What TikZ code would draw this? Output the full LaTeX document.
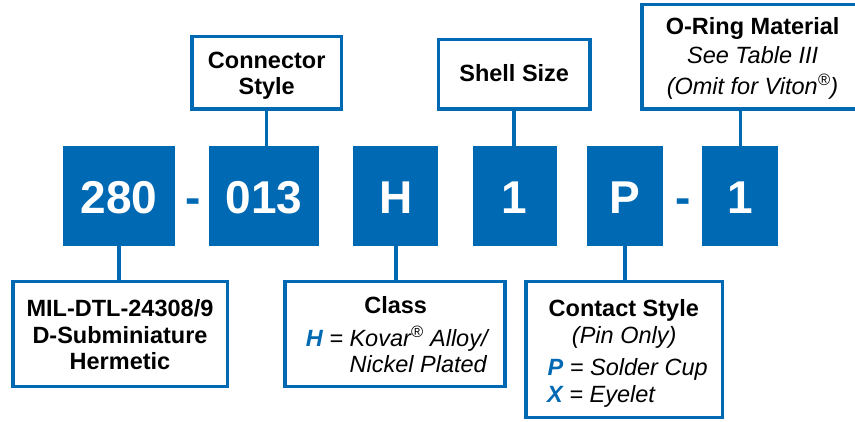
\documentclass[tikz,border=0pt]{standalone}
\usepackage{fontspec}
\setmainfont{Liberation Sans}
\definecolor{pnblue}{RGB}{0,105,180}
\newcommand\hlt[1]{\textcolor{pnblue}{\bfseries\itshape #1}}
\tikzset{
  codebox/.style={fill=pnblue, draw=none, inner sep=0pt, text=white,
    font=\fontsize{46}{46}\selectfont\bfseries, text height=36pt, text depth=0pt,
    minimum height=100pt},
  dashsym/.style={anchor=base, inner sep=0pt, text=pnblue,
    font=\fontsize{46}{46}\selectfont\bfseries},
  labelbox/.style={draw=pnblue, line width=3.5pt, fill=white, inner sep=0pt},
  link/.style={draw=pnblue, line width=3.5pt},
  ttl/.style={anchor=base, inner sep=0pt, font=\fontsize{23.5}{27}\selectfont\bfseries},
  desc/.style={anchor=base, inner sep=0pt, font=\fontsize{23.5}{27}\selectfont\itshape},
  descw/.style={anchor=base west, inner sep=0pt, font=\fontsize{23.5}{27}\selectfont\itshape},
}
\begin{document}
\begin{tikzpicture}[x=1pt, y=-1pt]
\useasboundingbox (0,0) rectangle (855,422);
\clip (0,0) rectangle (855,422);

% code boxes
\node[codebox, minimum width=112pt]   (b1) at (119,196)   {280};
\node[codebox, minimum width=109.7pt] (b2) at (264.2,196) {013};
\node[codebox, minimum width=85pt]    (b3) at (395.8,196) {H};
\node[codebox, minimum width=84pt]    (b4) at (514.7,196) {1};
\node[codebox, minimum width=75.4pt]  (b5) at (625,196)   {P};
\node[codebox, minimum width=76pt]    (b6) at (740.3,196) {1};
\node[dashsym] (d1) at (193.5,214) {-};
\node[dashsym] (d2) at (683.5,214) {-};

% label boxes
\node[labelbox, minimum width=149.5pt, minimum height=72.5pt] (cs)  at (266.5,73)    {};
\node[labelbox, minimum width=151.5pt, minimum height=69.8pt] (ss)  at (514.2,74.3)  {};
\node[labelbox, minimum width=228.3pt, minimum height=104.5pt] (om) at (755.9,57)    {};
\node[labelbox, minimum width=214.8pt, minimum height=104.8pt] (mil) at (120.15,334.15) {};
\node[labelbox, minimum width=219.9pt, minimum height=104.5pt] (cls) at (395,334)    {};
\node[labelbox, minimum width=196.2pt, minimum height=135.5pt] (ct)  at (624.15,349.5) {};

% connectors
\draw[link] (cs.south) -- (cs.south |- b2.north);
\draw[link] (ss.south) -- (ss.south |- b4.north);
\draw[link] (b6.north) -- (b6.north |- om.south);
\draw[link] (b1.south) -- (b1.south |- mil.north);
\draw[link] (b3.south) -- (b3.south |- cls.north);
\draw[link] (b5.south) -- (b5.south |- ct.north);

% texts
\node[ttl] (cs1) at (266.7,68.3) {Connector};
\node[ttl] (cs2) at (266.7,95)   {Style};
\node[ttl] (ss1) at (514.2,81.7) {Shell Size};
\node[ttl]  (om1) at (752.7,35) {O-Ring Material};
\node[desc] (om2) at (752.7,64) {See Table III};
\node[desc] (om3) at (752.5,95) {(Omit for Viton\textsuperscript{®})};
\node[ttl] (mil1) at (120,316.7) {MIL-DTL-24308/9};
\node[ttl] (mil2) at (120,343.3) {D-Subminiature};
\node[ttl] (mil3) at (120,370)   {Hermetic};
\node[ttl]  (cls1) at (395.7,314)   {Class};
\node[desc] (cls2) at (396.7,346.7) {\hlt{H} = Kovar\textsuperscript{®} Alloy/};
\node[descw] (cls3) at (349.5,372.5) {Nickel Plated};
\node[ttl]  (ct1) at (623.8,316.7) {Contact Style};
\node[desc] (ct2) at (624.2,343.3) {(Pin Only)};
\node[descw] (ct3) at (547.5,376)   {\hlt{P} = Solder Cup};
\node[descw] (ct4) at (547,402.3)   {\hlt{X} = Eyelet};
\end{tikzpicture}
\end{document}
